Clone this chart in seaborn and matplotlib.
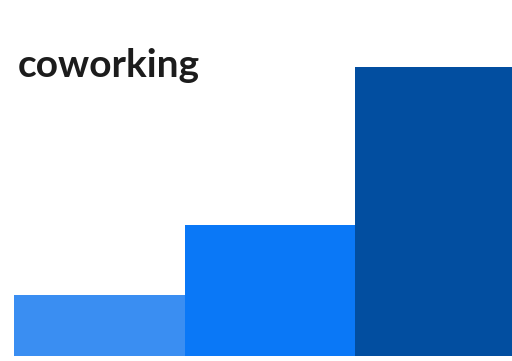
import matplotlib
matplotlib.use("Agg")
import matplotlib.pyplot as plt
import seaborn as sns
import pandas as pd

categories = ["A", "B", "C"]
values = [2.1, 4.55, 10.0]
colors = ["#3a8ef2", "#0a78f7", "#024ea0"]
title = "coworking"

sns.set_style("white")
plt.rcParams['font.family'] = ['Lato', 'DejaVu Sans']

df = pd.DataFrame({"cat": categories, "val": values})

fig = plt.figure(figsize=(5.12, 3.61), dpi=100)
ax = fig.add_axes([14 / 512, 5 / 361, 498 / 512, 300 / 361])
sns.barplot(data=df, x="cat", y="val", hue="cat", palette=colors,
            width=1.0, saturation=1, legend=False, ax=ax, linewidth=0)

# tallest bar reaches ~289 px of the 300 px axes
ax.set_ylim(0, max(values) * 300 / 289)
ax.set_xlim(-0.5, 2.42)
ax.axis("off")

fig.text(18 / 512, 1 - 77 / 361, title, fontsize=28, fontweight="bold",
         color="#1c1c1c", ha="left", va="baseline")

fig.savefig("out.png", dpi=100, facecolor="white")
